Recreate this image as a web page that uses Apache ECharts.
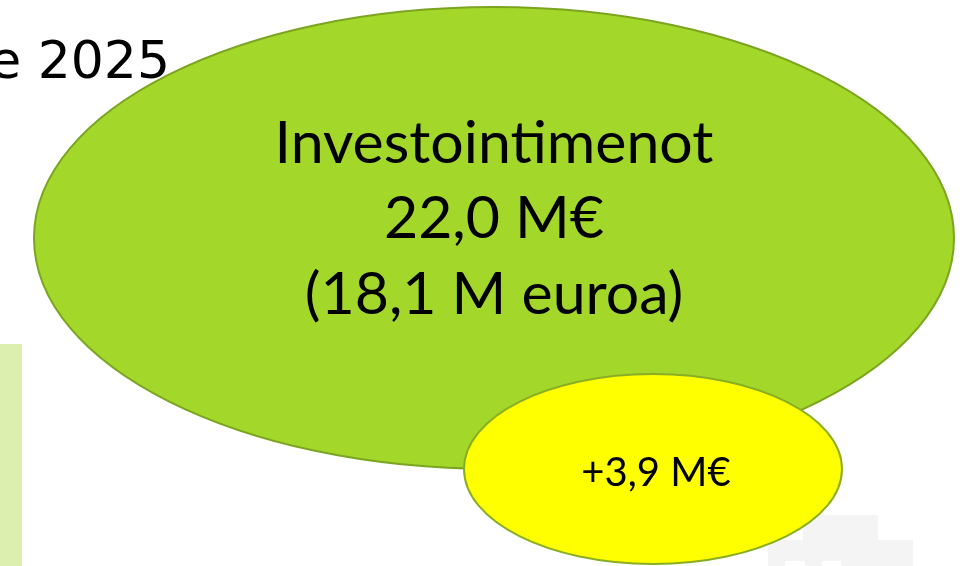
<!DOCTYPE html>
<html>
<head>
<meta charset="utf-8">
<script src="https://cdn.jsdelivr.net/npm/echarts@6/dist/echarts.min.js"></script>
<style>
  html, body { margin: 0; padding: 0; background: #ffffff; }
  #chart { width: 963px; height: 566px; }
</style>
</head>
<body>
<div id="chart"></div>
<script>
// ---- data ----
const titleText = 'e 2025';
const bubbleNames = ['Investointimenot', 'Lisäys'];
const totalValues = [22.0];      // M€
const euroValues = [18.1];       // M euroa
const addedValues = [3.9];       // M€

function fmt(v) { return v.toFixed(1).replace('.', ','); }

const mainLabel = bubbleNames[0] + '\n' + fmt(totalValues[0]) + ' M€\n(' + fmt(euroValues[0]) + ' M euroa)';
const addLabel = '+' + fmt(addedValues[0]) + ' M€';

const chart = echarts.init(document.getElementById('chart'), null, { renderer: 'canvas' });

const option = {
  backgroundColor: '#ffffff',
  animation: false,
  graphic: [
    // light green bar at left
    { type: 'rect', shape: { x: 0, y: 344, width: 22, height: 230 }, style: { fill: '#dcefae' }, z: 1 },
    // light gray shapes bottom right
    { type: 'rect', shape: { x: 803, y: 515, width: 75, height: 30 }, style: { fill: '#f4f4f4' }, z: 1 },
    { type: 'rect', shape: { x: 768, y: 540, width: 145, height: 30 }, style: { fill: '#f4f4f4' }, z: 1 },
    { type: 'rect', shape: { x: 785, y: 561, width: 20, height: 10 }, style: { fill: '#ffffff' }, z: 2 },
    { type: 'rect', shape: { x: 822, y: 561, width: 19, height: 10 }, style: { fill: '#ffffff' }, z: 2 },
    // title fragment
    {
      type: 'text', z: 10,
      style: {
        text: titleText, x: 170, y: 38, align: 'right', verticalAlign: 'top',
        font: '52px "DejaVu Sans"', fill: '#000000'
      }
    },
    // big green ellipse
    {
      type: 'ellipse', z: 5,
      shape: { cx: 494, cy: 238, rx: 460, ry: 231 },
      style: { fill: '#a3d82a', stroke: '#7ba420', lineWidth: 2 }
    },
    {
      type: 'text', z: 6,
      style: {
        text: mainLabel, x: 494, y: 106, align: 'center', verticalAlign: 'top',
        font: '59px Lato', lineHeight: 75.5, fill: '#000000'
      }
    },
    // small yellow ellipse
    {
      type: 'ellipse', z: 7,
      shape: { cx: 653, cy: 469, rx: 189, ry: 95 },
      style: { fill: '#ffff00', stroke: '#8aae22', lineWidth: 2 }
    },
    {
      type: 'text', z: 8,
      style: {
        text: addLabel, x: 656, y: 453, align: 'center', verticalAlign: 'top',
        font: '40px Lato', fill: '#000000'
      }
    }
  ]
};

chart.setOption(option);
</script>
</body>
</html>
